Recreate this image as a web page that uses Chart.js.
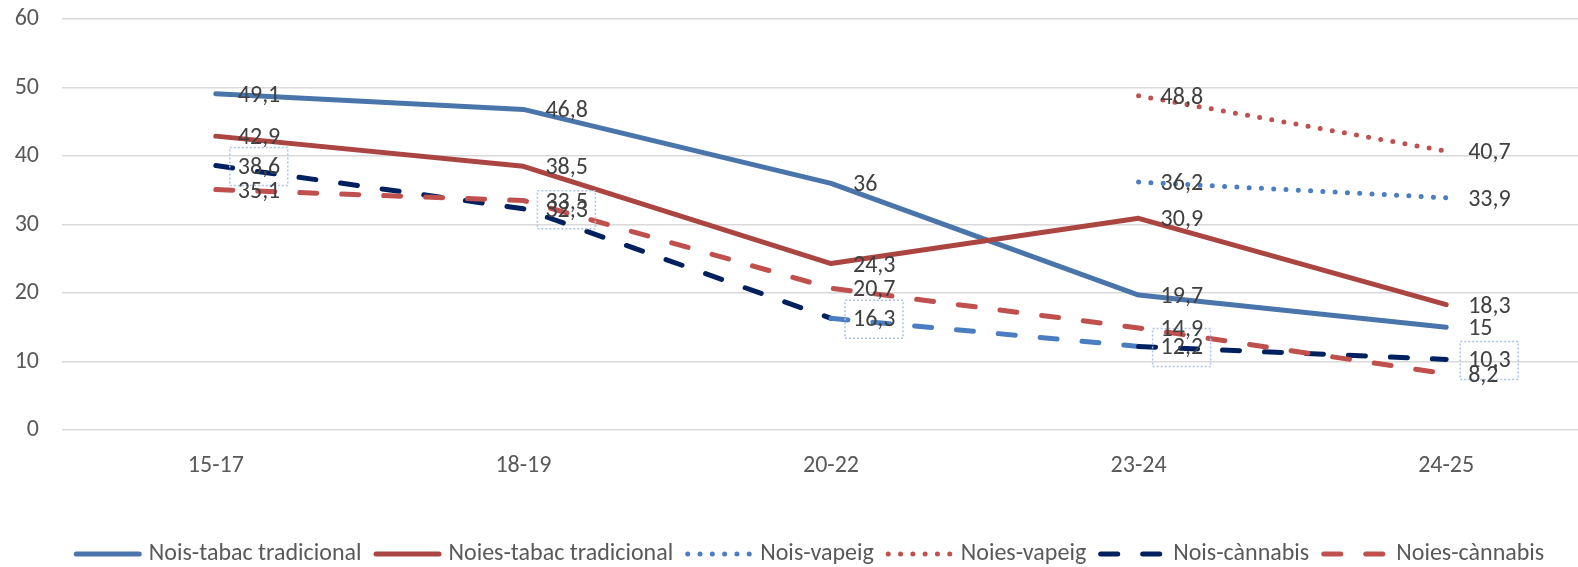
<!DOCTYPE html>
<html>
<head>
<meta charset="utf-8">
<script src="https://cdn.jsdelivr.net/npm/chart.js@4/dist/chart.umd.min.js"></script>
<style>
  html, body { margin: 0; padding: 0; background: #fff; overflow: hidden; }
  #wrap { width: 1600px; height: 567px; position: relative; }
</style>
</head>
<body>
<div id="wrap"><canvas id="myChart"></canvas></div>
<script>
// data
const categories = ['15-17', '18-19', '20-22', '23-24', '24-25'];
const noisTabac = [49.1, 46.8, 36, 19.7, 15];
const noiesTabac = [42.9, 38.5, 24.3, 30.9, 18.3];
const noisVapeig = [null, null, null, 36.2, 33.9];
const noiesVapeig = [null, null, null, 48.8, 40.7];
const noisCannabis = [38.6, 32.3, 16.3, 12.2, 10.3];
const noiesCannabis = [35.1, 33.5, 20.7, 14.9, 8.2];
const yMin = 0, yMax = 60, yStep = 10;

const FONT = 'Calibri, Carlito, Lato, sans-serif';
const FSIZE = 24;
const DOTS = [0, 12.3];
const DASH = [17, 25];

const ctx = document.getElementById('myChart');

function ds(label, data, color, dash, order) {
    return {
        label: label,
        data: data,
        borderColor: color,
        backgroundColor: color,
        borderWidth: 5,
        borderDash: dash,
        borderCapStyle: 'round',
        borderJoinStyle: 'round',
        pointRadius: 0,
        pointHoverRadius: 0,
        tension: 0,
        spanGaps: false,
        order: order
    };
}

const datasets = [
    ds('Nois-tabac tradicional', noisTabac, '#4a75aa', [], 6),
    ds('Noies-tabac tradicional', noiesTabac, '#ab4542', [], 5),
    ds('Nois-vapeig', noisVapeig, '#4a7ec0', DOTS, 4),
    ds('Noies-vapeig', noiesVapeig, '#c0504d', DOTS, 3),
    ds('Nois-cànnabis', noisCannabis, '#002060', DASH, 2),
    ds('Noies-cànnabis', noiesCannabis, '#c0504d', DASH, 1)
];
// one segment of Nois-cànnabis is drawn lighter in the original
datasets[4].segment = {
    borderColor: c => c.p0DataIndex === 2 ? '#4a7ec0' : '#002060'
};

// value labels + dotted boxes
const labelPlugin = {
    id: 'labels',
    afterDatasetsDraw(chart) {
        const c = chart.ctx;
        c.save();
        chart.data.datasets.forEach((d, di) => {
            const meta = chart.getDatasetMeta(di);
            meta.data.forEach((pt, i) => {
                const v = d.data[i];
                if (v === null) return;
                if (d.label === 'Nois-cànnabis') {
                    c.save();
                    c.strokeStyle = '#aac4e6';
                    c.lineWidth = 1.5;
                    c.setLineDash([2, 2]);
                    c.strokeRect(pt.x + 14, pt.y - 18, 58, 38);
                    c.restore();
                }
            });
        });
        c.font = FSIZE + 'px ' + FONT;
        c.fillStyle = '#404040';
        c.textAlign = 'left';
        c.textBaseline = 'middle';
        chart.data.datasets.forEach((d, di) => {
            const meta = chart.getDatasetMeta(di);
            meta.data.forEach((pt, i) => {
                const v = d.data[i];
                if (v === null) return;
                c.fillText(String(v).replace('.', ','), pt.x + 22, pt.y + 2);
            });
        });
        c.restore();
    }
};

// legend drawn by hand so the dash styles show
const legendPlugin = {
    id: 'legendLines',
    afterDraw(chart) {
        const c = chart.ctx;
        const sample = 68, gapText = 7, gapItem = 12;
        c.save();
        c.font = FSIZE + 'px ' + FONT;
        c.textBaseline = 'middle';
        c.textAlign = 'left';
        const items = chart.data.datasets.map(d => ({
            d: d, w: sample + gapText + c.measureText(d.label).width
        }));
        const total = items.reduce((s, it) => s + it.w, 0) + gapItem * (items.length - 1);
        let x = 809 - total / 2;
        const y = 554;
        items.forEach(it => {
            const d = it.d;
            c.save();
            c.strokeStyle = d.label === 'Nois-cànnabis' ? '#002060' : d.borderColor;
            c.lineWidth = 5;
            c.lineCap = 'round';
            c.setLineDash(d.borderDash);
            c.beginPath();
            c.moveTo(x + 2.5, y);
            c.lineTo(x + sample - 2.5, y);
            c.stroke();
            c.restore();
            c.fillStyle = '#595959';
            c.fillText(d.label, x + sample + gapText, y);
            x += it.w + gapItem;
        });
        c.restore();
    }
};

new Chart(ctx, {
    type: 'line',
    data: {
        labels: categories,
        datasets: datasets
    },
    options: {
        responsive: true,
        maintainAspectRatio: false,
        animation: false,
        layout: { padding: { top: 19, right: 0, bottom: 0, left: 0 } },
        plugins: {
            legend: { display: false },
            tooltip: { enabled: false }
        },
        scales: {
            x: {
                offset: true,
                grid: { display: false, drawTicks: false },
                border: { display: false },
                ticks: { color: '#595959', font: { family: FONT, size: FSIZE }, padding: 22 },
                afterFit: s => { s.height = 137; }
            },
            y: {
                min: yMin,
                max: yMax,
                ticks: { stepSize: yStep, color: '#595959', font: { family: FONT, size: FSIZE }, padding: 23 },
                grid: { color: '#d9d9d9', lineWidth: 1.5, drawTicks: false },
                border: { display: false },
                afterFit: s => {
                    s.width = 62;
                    s.paddingTop = 0;
                    s.paddingBottom = 0;
                }
            }
        }
    },
    plugins: [labelPlugin, legendPlugin]
});
</script>
</body>
</html>
